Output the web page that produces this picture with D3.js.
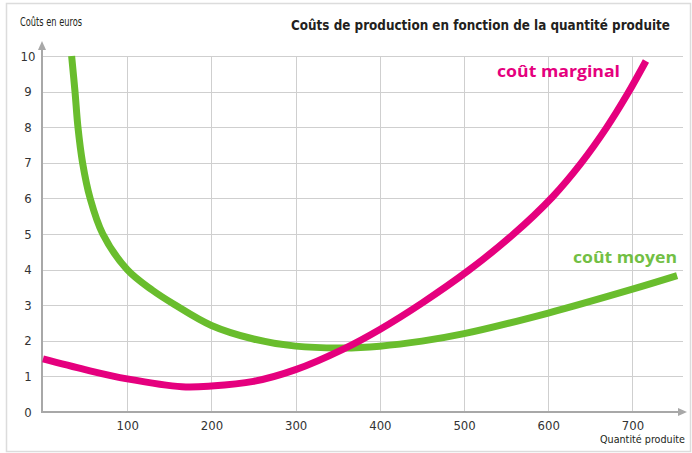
<!DOCTYPE html>
<html>
<head>
<meta charset="utf-8">
<script src="https://cdn.jsdelivr.net/npm/d3@7"></script>
<style>
  html, body { margin: 0; padding: 0; background: #fff; }
  svg { display: block; }
  .narrow { font-family: "Liberation Sans Narrow", "DejaVu Sans Condensed", "Liberation Sans", sans-serif; }
</style>
</head>
<body>
<svg id="chart" width="692" height="453"></svg>
<script>
// ---- data ----
const title = "Coûts de production en fonction de la quantité produite";
const yAxisTitle = "Coûts en euros";
const xAxisTitle = "Quantité produite";
const xTicks = [100, 200, 300, 400, 500, 600, 700];
const yTicks = [0, 1, 2, 3, 4, 5, 6, 7, 8, 9, 10];

const avgCostQ = [34, 38, 41.5, 47, 56, 71, 100, 130, 156, 200, 250, 300, 356, 400, 450, 500, 600, 700, 753];
const avgCostV = [10, 9, 8, 7, 6, 5, 4, 3.42, 3.02, 2.43, 2.05, 1.85, 1.8, 1.85, 1.99, 2.2, 2.78, 3.45, 3.83];

const margCostQ = [0, 50, 100, 165, 200, 250, 300, 356, 400, 450, 505, 558, 605, 639, 669, 694, 716];
const margCostV = [1.49, 1.19, 0.93, 0.71, 0.73, 0.86, 1.19, 1.76, 2.32, 3.06, 3.97, 4.98, 6.04, 6.99, 7.98, 8.93, 9.86];

const seriesLabels = ["coût marginal", "coût moyen"];

// ---- layout ----
const svg = d3.select("#chart");
const pink = "#e5007e";
const green = "#69bd2d";

const x = d3.scaleLinear().domain([0, 760]).range([43, 683]);
const y = d3.scaleLinear().domain([0, 10]).range([412, 56]);

// frame
svg.append("rect").attr("x", 6.5).attr("y", 3.5).attr("width", 684).attr("height", 448)
  .attr("fill", "#fff").attr("stroke", "#dcdcdc").attr("stroke-width", 1.5);

// grid
const grid = svg.append("g").attr("stroke", "#cfcfcf").attr("stroke-width", 1);
grid.selectAll("line.h").data(yTicks.filter(d => d > 0)).join("line")
  .attr("x1", x(0) - 1).attr("x2", x(760))
  .attr("y1", d => Math.round(y(d)) + 0.5).attr("y2", d => Math.round(y(d)) + 0.5);
grid.selectAll("line.v").data(xTicks).join("line")
  .attr("y1", y(0)).attr("y2", y(10))
  .attr("x1", d => Math.round(x(d)) + 0.5).attr("x2", d => Math.round(x(d)) + 0.5);

// axes via d3
const xAxis = d3.axisBottom(x).tickValues(xTicks).tickSize(0).tickPadding(6);
const gx = svg.append("g").attr("transform", `translate(0,${y(0)})`).call(xAxis);
gx.select(".domain").remove();
gx.selectAll("text").attr("class", "narrow").attr("font-size", 13).attr("fill", "#333")
  .attr("font-family", null).attr("dy", "0.9em");

const yAxis = d3.axisLeft(y).tickValues(yTicks).tickSize(0).tickPadding(0);
const gy = svg.append("g").attr("transform", `translate(28,0)`).call(yAxis);
gy.select(".domain").remove();
gy.selectAll("text").attr("class", "narrow").attr("font-size", 13).attr("fill", "#333")
  .attr("font-family", null).attr("text-anchor", "middle").attr("x", 0);

// axis lines with arrows
const axisColor = "#a8a8a8";
svg.append("line").attr("x1", 42).attr("x2", 42).attr("y1", y(0) + 1).attr("y2", 48)
  .attr("stroke", axisColor).attr("stroke-width", 2);
svg.append("path").attr("d", "M38,50 L42,41 L46,50 Z").attr("fill", axisColor);
svg.append("line").attr("x1", 41).attr("x2", 680).attr("y1", y(0)).attr("y2", y(0))
  .attr("stroke", axisColor).attr("stroke-width", 2);
svg.append("path").attr("d", `M678,${y(0) - 4} L687,${y(0)} L678,${y(0) + 4} Z`).attr("fill", axisColor);

// curves
const line = d3.line().x(d => x(d[0])).y(d => y(d[1])).curve(d3.curveCatmullRom.alpha(0.5));
const avgData = avgCostQ.map((q, i) => [q, avgCostV[i]]);
const margData = margCostQ.map((q, i) => [q, margCostV[i]]);

svg.append("path").datum(avgData).attr("d", line)
  .attr("fill", "none").attr("stroke", green).attr("stroke-width", 7);
svg.append("path").datum(margData).attr("d", line)
  .attr("fill", "none").attr("stroke", pink).attr("stroke-width", 7);

// texts: fit the font size to the measured width, then fine-tune with textLength
function fit(t, target, slack) {
  const w = t.node().getComputedTextLength();
  const fs = +t.attr("font-size");
  if (w > target * slack) t.attr("font-size", fs * target * slack / w);
  t.attr("textLength", target).attr("lengthAdjust", "spacingAndGlyphs");
}

fit(svg.append("text").attr("class", "narrow").attr("x", 670).attr("y", 30)
  .attr("text-anchor", "end")
  .attr("font-size", 15).attr("font-weight", "bold").attr("fill", "#231f20")
  .text(title), 379, 1.04);

fit(svg.append("text").attr("class", "narrow").attr("x", 20).attr("y", 26)
  .attr("font-size", 12).attr("fill", "#231f20")
  .text(yAxisTitle), 62, 1.25);

fit(svg.append("text").attr("class", "narrow").attr("x", 685).attr("y", 443)
  .attr("text-anchor", "end")
  .attr("font-size", 13).attr("fill", "#231f20")
  .text(xAxisTitle), 85, 1.04);

fit(svg.append("text").attr("x", 620).attr("y", 77).attr("text-anchor", "end")
  .attr("font-family", "'Open Sans', 'Noto Sans', sans-serif")
  .attr("font-size", 16).attr("font-weight", "bold").attr("fill", pink)
  .text(seriesLabels[0]), 123, 1.04);

fit(svg.append("text").attr("x", 677).attr("y", 263).attr("text-anchor", "end")
  .attr("font-family", "'Open Sans', 'Noto Sans', sans-serif")
  .attr("font-size", 16).attr("font-weight", "bold").attr("fill", "#72bf44")
  .text(seriesLabels[1]), 104, 1.04);
</script>
</body>
</html>
